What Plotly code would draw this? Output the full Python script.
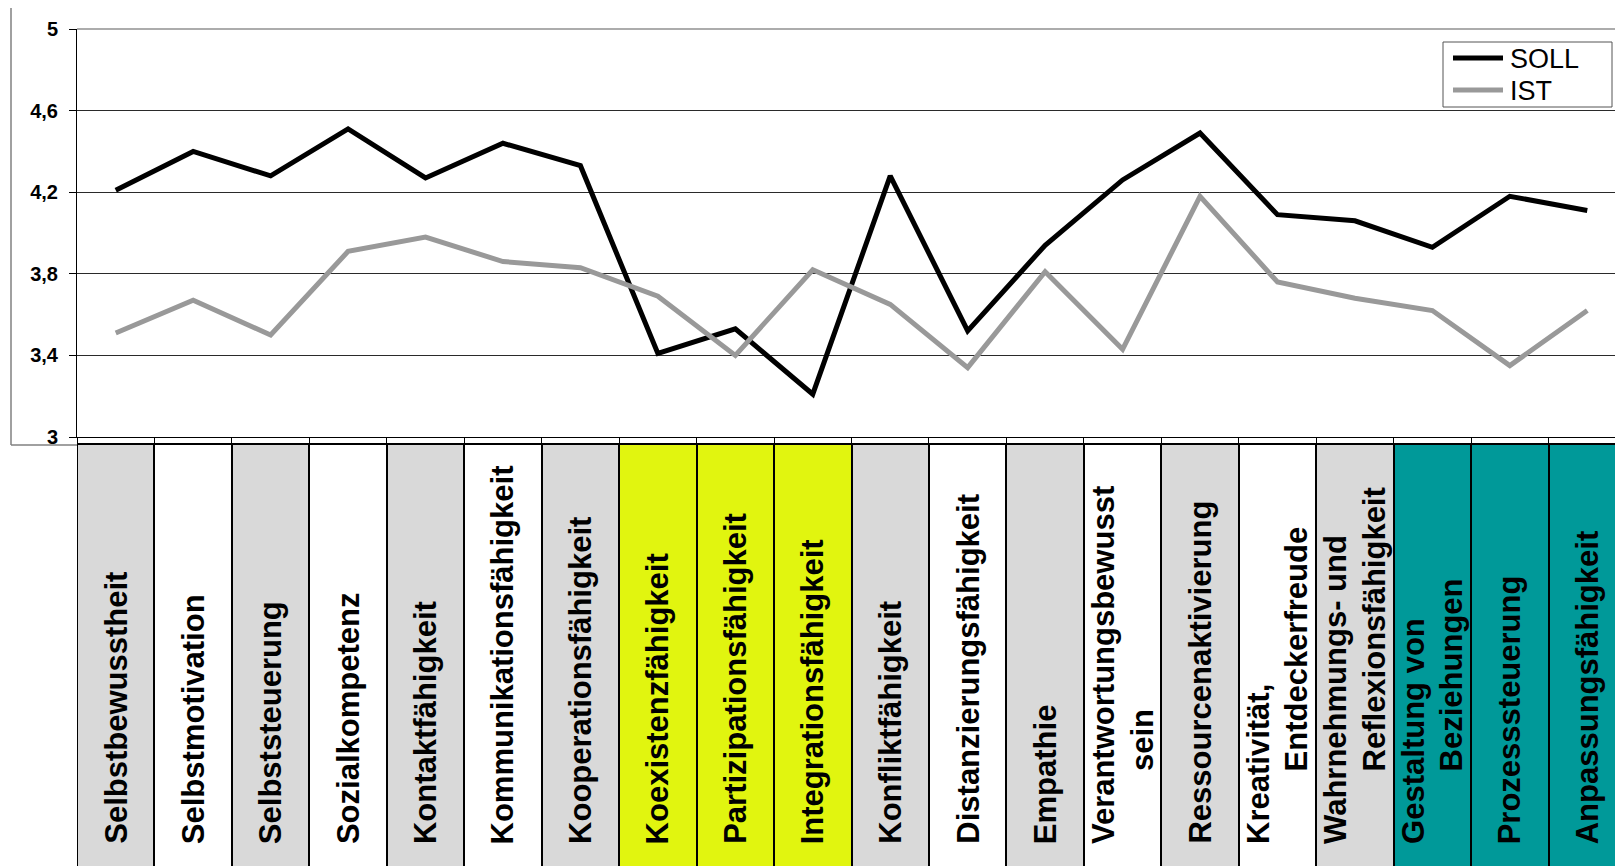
import plotly.graph_objects as go

categories = [
    "Selbstbewusstheit", "Selbstmotivation", "Selbststeuerung", "Sozialkompetenz",
    "Kontaktfähigkeit", "Kommunikationsfähigkeit", "Kooperationsfähigkeit",
    "Koexistenzfähigkeit", "Partizipationsfähigkeit", "Integrationsfähigkeit",
    "Konfliktfähigkeit", "Distanzierungsfähigkeit", "Empathie",
    "Verantwortungsbewusst\nsein", "Ressourcenaktivierung", "Kreativität,\nEntdeckerfreude",
    "Wahrnehmungs- und\nReflexionsfähigkeit", "Gestaltung von\nBeziehungen",
    "Prozesssteuerung", "Anpassungsfähigkeit",
]
soll = [4.21, 4.40, 4.28, 4.51, 4.27, 4.44, 4.33, 3.41, 3.53, 3.21,
        4.28, 3.52, 3.94, 4.26, 4.49, 4.09, 4.06, 3.93, 4.18, 4.11]
ist = [3.51, 3.67, 3.50, 3.91, 3.98, 3.86, 3.83, 3.69, 3.40, 3.82,
       3.65, 3.34, 3.81, 3.43, 4.18, 3.76, 3.68, 3.62, 3.35, 3.62]
series_names = ["SOLL", "IST"]
y_ticks = [3, 3.4, 3.8, 4.2, 4.6, 5]
y_tick_labels = ["3", "3,4", "3,8", "4,2", "4,6", "5"]

GRAY, WHITE, YELLOW, TEAL = "#d9d9d9", "#ffffff", "#e1f50f", "#009999"
cell_colors = [GRAY, WHITE, GRAY, WHITE, GRAY, WHITE, GRAY, YELLOW, YELLOW, YELLOW,
               GRAY, WHITE, GRAY, WHITE, GRAY, WHITE, GRAY, TEAL, TEAL, TEAL]
line_colors = ["#000000", "#999999"]

# page body has an 8px default margin -> figure is shifted by OFF
OFF = 8
W, H = 1623 - OFF, 866 - OFF
ML, MT = 77 - OFF, 29 - OFF
PLOT_W, PLOT_H = W - ML, H - MT

def px(t):  # true screen x -> paper x
    return (t - OFF - ML) / PLOT_W

def py(t):  # true screen y -> paper y
    return (H - (t - OFF)) / PLOT_H

x_keys = [c.replace("\n", " ") for c in categories]

fig = go.Figure()
for name, vals, col in zip(series_names, [soll, ist], line_colors):
    fig.add_trace(go.Scatter(x=x_keys, y=vals, mode="lines", name=name, showlegend=False,
                             line=dict(color=col, width=5), xaxis="x", yaxis="y"))
# label cells as bars in a lower subplot
fig.add_trace(go.Bar(x=x_keys, y=[1] * len(x_keys), width=1, showlegend=False,
                     marker=dict(color=cell_colors, line=dict(color="#000000", width=2)),
                     xaxis="x2", yaxis="y2", hoverinfo="skip"))

annotations = []
font_lab = dict(family="Liberation Sans, Arial", size=31, color="#000000", weight="bold")
cell_top = 442
def y2d(t):
    return (866 - t) / (866 - cell_top)
for i, cat in enumerate(categories):
    lines = cat.split("\n")
    if len(lines) == 1:
        annotations.append(dict(x=x_keys[i], y=y2d(846), xref="x2", yref="y2 domain",
                                text=lines[0], textangle=-90, showarrow=False,
                                xanchor="center", yanchor="bottom", font=font_lab))
    else:
        annotations.append(dict(x=x_keys[i], y=y2d(846), xref="x2", yref="y2 domain",
                                text=lines[0], textangle=-90, showarrow=False, xshift=-19.5,
                                xanchor="center", yanchor="bottom", font=font_lab))
        annotations.append(dict(x=x_keys[i], y=y2d(773), xref="x2", yref="y2 domain",
                                text=lines[1], textangle=-90, showarrow=False, xshift=19.5,
                                xanchor="center", yanchor="bottom", font=font_lab))

shapes = [
    dict(type="line", xref="paper", yref="paper", x0=px(11), x1=px(11), y0=py(7), y1=py(445),
         line=dict(color="#808080", width=1.5)),
    dict(type="line", xref="paper", yref="paper", x0=px(11), x1=px(77), y0=py(445), y1=py(445),
         line=dict(color="#808080", width=1.5)),
    dict(type="line", xref="paper", yref="paper", x0=px(11), x1=1.01, y0=py(7), y1=py(7),
         line=dict(color="#808080", width=1.5)),
    dict(type="line", xref="paper", yref="paper", x0=0, x1=1.01, y0=1, y1=1,
         line=dict(color="#909090", width=1.5)),
]

# manual legend
shapes.append(dict(type="rect", xref="paper", yref="paper", x0=px(1443), x1=px(1612),
                   y0=py(107), y1=py(42), fillcolor="#ffffff",
                   line=dict(color="#555555", width=1)))
leg_font = dict(family="Liberation Sans, Arial", size=27, color="#000000")
for k, (name, col) in enumerate(zip(series_names, line_colors)):
    yy = 58 + 32 * k
    shapes.append(dict(type="line", xref="paper", yref="paper", x0=px(1453), x1=px(1503),
                       y0=py(yy), y1=py(yy), line=dict(color=col, width=5)))
    annotations.append(dict(x=px(1509), y=py(yy + 1), xref="paper", yref="paper", text=name,
                            showarrow=False, xanchor="left", yanchor="middle", font=leg_font,
                            borderpad=0))

xrange = [-0.5, -0.5 + PLOT_W / 77.45]
fig.update_layout(
    width=W, height=H,
    margin=dict(l=ML, r=0, t=MT, b=0, autoexpand=False),
    paper_bgcolor="#ffffff", plot_bgcolor="#ffffff",
    bargap=0,
    xaxis=dict(type="category", categoryorder="array", categoryarray=x_keys,
               range=xrange, domain=[0, 1], anchor="y",
               showticklabels=False, ticks="outside", tickson="boundaries", ticklen=5,
               tickcolor="#000000", showline=True, linecolor="#000000", linewidth=1,
               showgrid=False, zeroline=False),
    yaxis=dict(range=[3, 5], domain=[py(437), 1], anchor="x",
               tickvals=y_ticks, ticktext=y_tick_labels, ticks="outside", ticklen=7,
               tickcolor="#000000", showline=True, linecolor="#000000", linewidth=1,
               showgrid=True, gridcolor="#2a2a2a", gridwidth=1, zeroline=False,
               ticklabelstandoff=7,
               tickfont=dict(family="Liberation Sans, Arial", size=20, color="#000000",
                             weight="bold")),
    xaxis2=dict(type="category", categoryorder="array", categoryarray=x_keys,
                matches="x", range=xrange, domain=[0, 1], anchor="y2",
                showticklabels=False, showgrid=False, zeroline=False, showline=False,
                ticks=""),
    yaxis2=dict(range=[0.015, 1.004], domain=[0, py(442)], anchor="x2",
                visible=False, fixedrange=True),
    annotations=annotations,
    shapes=shapes,
    showlegend=False,
)

fig.write_html("out.html")
